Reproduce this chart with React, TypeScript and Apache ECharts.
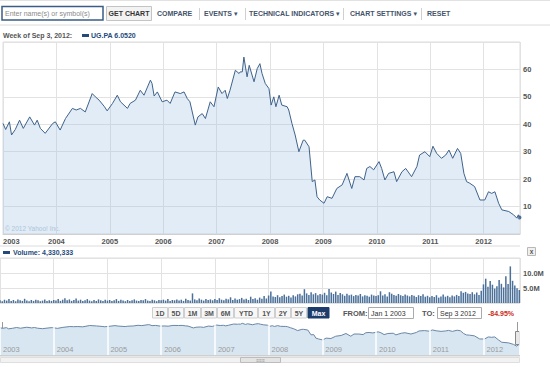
import React, { useEffect, useRef } from "react";
import * as echarts from "echarts";

// Weekly close of UG.PA (decimal year, EUR)
const priceYears = [
  2003.0, 2003.05, 2003.12, 2003.16, 2003.23, 2003.31, 2003.38, 2003.5, 2003.59, 2003.64,
  2003.7, 2003.79, 2003.93, 2003.98, 2004.07, 2004.17, 2004.3, 2004.37, 2004.45, 2004.54,
  2004.67, 2004.73, 2004.8, 2004.9, 2004.95, 2005.05, 2005.14, 2005.2, 2005.33, 2005.38,
  2005.48, 2005.57, 2005.64, 2005.76, 2005.79, 2005.83, 2005.89, 2005.98, 2006.07, 2006.13,
  2006.22, 2006.32, 2006.39, 2006.45, 2006.5, 2006.6, 2006.65, 2006.73, 2006.79, 2006.88,
  2006.95, 2007.03, 2007.1, 2007.16, 2007.2, 2007.25, 2007.35, 2007.42, 2007.44, 2007.48,
  2007.51, 2007.57, 2007.61, 2007.7, 2007.76, 2007.81, 2007.85, 2007.91, 2007.98, 2008.02,
  2008.07, 2008.11, 2008.17, 2008.22, 2008.32, 2008.35, 2008.41, 2008.47, 2008.54, 2008.62,
  2008.65, 2008.73, 2008.79, 2008.84, 2008.88, 2008.93, 2009.01, 2009.07, 2009.16, 2009.25,
  2009.35, 2009.44, 2009.53, 2009.59, 2009.68, 2009.76, 2009.81, 2009.87, 2009.94, 2010.04,
  2010.09, 2010.15, 2010.22, 2010.32, 2010.37, 2010.47, 2010.54, 2010.65, 2010.75, 2010.8,
  2010.9, 2010.99, 2011.05, 2011.12, 2011.21, 2011.29, 2011.35, 2011.42, 2011.51, 2011.57,
  2011.63, 2011.68, 2011.74, 2011.83, 2011.93, 2012.02, 2012.09, 2012.15, 2012.21, 2012.28,
  2012.34, 2012.47, 2012.56, 2012.62, 2012.65, 2012.67,
];
const priceValues = [
  40.3, 38.1, 40.9, 36.1, 38.1, 41.5, 38.5, 42.7, 39.7, 41.5,
  38.5, 36.7, 40.3, 40.9, 37.9, 42.1, 45.8, 45.2, 45.8, 44.5,
  51.2, 50.0, 48.8, 46.4, 44.9, 47.6, 50.6, 48.2, 45.8, 47.6,
  48.8, 52.4, 50.6, 56.1, 54.9, 50.3, 51.8, 48.2, 48.8, 47.6,
  51.8, 51.2, 51.8, 49.4, 48.2, 39.7, 42.7, 43.9, 42.1, 48.2,
  46.4, 53.6, 51.2, 52.4, 49.4, 52.4, 59.7, 58.5, 59.1, 59.1,
  64.5, 57.3, 61.5, 55.5, 60.3, 62.1, 58.5, 54.9, 53.0, 47.0,
  50.0, 46.4, 50.6, 47.0, 46.4, 45.2, 40.3, 36.1, 30.0, 34.2,
  34.2, 31.8, 19.1, 19.7, 13.6, 12.4, 11.2, 13.6, 13.0, 16.6,
  17.9, 22.1, 16.6, 20.9, 20.9, 19.7, 23.9, 24.6, 23.4, 26.4,
  23.9, 19.7, 22.1, 22.7, 19.1, 22.7, 23.9, 20.9, 24.6, 28.8,
  30.0, 28.2, 32.0, 29.4, 27.6, 28.8, 30.6, 27.6, 31.2, 29.4,
  22.1, 19.1, 18.5, 17.3, 12.4, 12.4, 15.4, 14.8, 15.4, 11.2,
  8.8, 8.2, 7.0, 5.8, 7.0, 6.052,
];

// Volume (millions of shares), two readings per month, from Jan 2003
const volumeStartYear = 2003;
const volumesPerYear = 24;
const vol2003 = [0.9, 0.6, 1.1, 0.8, 1.3, 0.7, 1.0, 0.6, 1.2, 0.9, 0.7, 1.4, 0.8, 0.6, 1.0, 0.7, 1.1, 0.9, 0.6, 0.8, 1.2, 0.7, 0.9, 0.7];
const vol2004 = [1.0, 0.8, 1.3, 0.7, 1.1, 1.6, 0.9, 1.2, 0.7, 1.0, 1.5, 0.8, 1.1, 0.7, 0.9, 1.3, 0.8, 0.6, 1.0, 0.7, 1.2, 0.9, 0.7, 1.1];
const vol2005 = [0.8, 1.0, 0.7, 0.9, 1.3, 0.7, 1.1, 0.8, 0.6, 1.0, 0.7, 0.9, 1.2, 0.8, 0.7, 1.0, 0.9, 1.3, 0.8, 0.7, 1.1, 0.9, 0.6, 1.0];
const vol2006 = [0.9, 1.1, 0.8, 1.3, 0.7, 1.0, 0.9, 1.2, 0.8, 1.1, 0.7, 1.4, 1.0, 0.8, 3.2, 1.2, 0.9, 1.5, 1.1, 0.8, 1.3, 1.0, 1.2, 0.9];
const vol2007 = [1.3, 1.0, 1.6, 1.1, 0.9, 1.4, 1.2, 1.9, 1.0, 1.5, 1.1, 1.3, 1.7, 1.2, 1.4, 1.0, 2.1, 1.3, 1.6, 1.1, 1.8, 1.4, 2.3, 1.5];
const vol2008 = [2.5, 3.8, 2.2, 2.0, 2.6, 1.9, 2.3, 2.8, 2.1, 2.4, 1.8, 2.6, 2.2, 2.9, 3.1, 2.5, 4.6, 3.2, 2.7, 3.6, 2.9, 3.3, 2.6, 3.0];
const vol2009 = [2.8, 3.4, 2.6, 4.7, 3.5, 3.0, 3.8, 2.7, 3.3, 2.9, 2.4, 3.1, 2.6, 2.8, 2.3, 2.7, 2.5, 3.0, 2.2, 2.6, 2.4, 2.1, 2.8, 2.5];
const vol2010 = [2.3, 2.6, 3.9, 2.5, 2.9, 2.2, 3.6, 3.1, 2.7, 2.4, 3.0, 2.6, 2.3, 2.8, 2.5, 2.2, 2.7, 2.4, 2.0, 2.6, 2.3, 2.9, 2.1, 2.4];
const vol2011 = [1.9, 2.3, 2.0, 2.6, 1.8, 2.2, 2.8, 2.1, 2.4, 1.9, 2.5, 2.2, 2.7, 2.3, 3.9, 3.4, 3.7, 3.2, 3.0, 3.6, 2.9, 3.5, 2.7, 4.1];
const vol2012 = [6.2, 8.1, 5.4, 7.3, 6.1, 4.8, 5.6, 7.7, 6.4, 5.2, 8.9, 6.3, 12.2, 7.4, 5.8, 4.9, 4.33];

const yearLabels = ["2003", "2004", "2005", "2006", "2007", "2008", "2009", "2010", "2011", "2012"];
const toolbarItems = ["COMPARE", "EVENTS \u25BE", "TECHNICAL INDICATORS \u25BE", "CHART SETTINGS \u25BE", "RESET"];
const rangeButtons = ["1D", "5D", "1M", "3M", "6M", "YTD", "1Y", "2Y", "5Y", "Max"];
const selectedRange = "Max";
const symbolName = "UG.PA";
const lastClose = "6.0520";
const lastVolume = "4,330,333";
const weekLabel = "Week of Sep 3, 2012:";
const fromDate = "Jan 1 2003";
const toDate = "Sep 3 2012";
const changeText = "-84.95%";

const X_MIN = 2003;
const X_MAX = 2012.68;

const FONT = "'Liberation Sans', Arial, 'DejaVu Sans', sans-serif";

export default function App() {
  const ref = useRef<HTMLDivElement>(null);

  useEffect(() => {
    if (!ref.current) return;
    const chart = echarts.init(ref.current, undefined, { renderer: "svg" });

    const priceData = priceYears.map((t, i) => [t, priceValues[i]]);
    const allVols = [vol2003, vol2004, vol2005, vol2006, vol2007, vol2008, vol2009, vol2010, vol2011, vol2012].flat();
    const volData = allVols.map((v, i) => [volumeStartYear + i / volumesPerYear, v * 1e6]);
    const yearFmt = (v: number) => {
      const idx = yearLabels.indexOf(String(v));
      return Number.isInteger(v) && idx >= 0 ? yearLabels[idx] : "";
    };

    const textStyle = (extra: any) => ({ fontFamily: FONT, fontSize: 7, fill: "#4a5a70", ...extra });

    const graphics: any[] = [];
    // Top toolbar
    graphics.push({ type: "line", shape: { x1: 0, y1: 0.5, x2: 550, y2: 0.5 }, style: { stroke: "#e2e2e2" } });
    graphics.push({ type: "rect", shape: { x: 2, y: 6.5, width: 101, height: 13.5 }, style: { fill: "#fff", stroke: "#3a5c87", lineWidth: 1.5 } });
    graphics.push({ type: "text", x: 5, y: 13.5, style: textStyle({ text: "Enter name(s) or symbol(s)", fill: "#8a8a8a", verticalAlign: "middle" }) });
    graphics.push({ type: "rect", shape: { x: 106.5, y: 6.5, width: 45, height: 14 }, style: { fill: "#f3f3f3", stroke: "#c4c4c4" } });
    graphics.push({ type: "text", x: 129, y: 13.8, style: textStyle({ text: "GET CHART", fill: "#333", fontWeight: "bold", align: "center", verticalAlign: "middle" }) });
    const tbX = [157, 204, 249, 350, 427];
    const sepX = [199.5, 245.5, 343.5, 421.5];
    toolbarItems.forEach((t, i) => {
      graphics.push({ type: "text", x: tbX[i], y: 13.8, style: textStyle({ text: t, fill: "#44546b", fontWeight: "bold", verticalAlign: "middle" }) });
    });
    sepX.forEach((x) => graphics.push({ type: "line", shape: { x1: x, y1: 8, x2: x, y2: 20 }, style: { stroke: "#d0d0d0" } }));
    graphics.push({ type: "line", shape: { x1: 0, y1: 25, x2: 550, y2: 25 }, style: { stroke: "#dcdcdc" } });

    // Legend line
    graphics.push({ type: "text", x: 3, y: 35.5, style: textStyle({ text: weekLabel, fill: "#555", fontWeight: "bold", verticalAlign: "middle" }) });
    graphics.push({ type: "rect", shape: { x: 82, y: 34, width: 7, height: 3 }, style: { fill: "#244a7c" } });
    graphics.push({ type: "text", x: 91, y: 35.5, style: textStyle({ text: symbolName + " " + lastClose, fill: "#244a7c", fontWeight: "bold", verticalAlign: "middle" }) });

    // copyright
    graphics.push({ type: "text", x: 5, y: 228, style: textStyle({ text: "\u00A9 2012 Yahoo! Inc.", fill: "#b3c6d8", fontWeight: "normal", verticalAlign: "middle", fontSize: 6.5 }) });

    // separator under x labels
    graphics.push({ type: "line", shape: { x1: 0, y1: 246, x2: 520, y2: 246 }, style: { stroke: "#dcdcdc" } });

    // Volume legend
    graphics.push({ type: "rect", shape: { x: 3, y: 251, width: 7, height: 3 }, style: { fill: "#244a7c" } });
    graphics.push({ type: "text", x: 13, y: 252.5, style: textStyle({ text: "Volume: " + lastVolume, fill: "#244a7c", fontWeight: "bold", verticalAlign: "middle" }) });
    // close box
    graphics.push({ type: "rect", shape: { x: 527.5, y: 247.5, width: 8, height: 8 }, style: { fill: "#f0f0f0", stroke: "#b8b8b8" } });
    graphics.push({ type: "text", x: 531.5, y: 251.5, style: textStyle({ text: "x", fill: "#555", fontWeight: "bold", align: "center", verticalAlign: "middle", fontSize: 6.5 }) });

    // Range buttons
    const btnX = [152, 168, 184, 201, 217, 234, 258, 275, 291, 307.5];
    const btnW = [15, 15, 16, 15, 16, 23, 16, 15, 15, 21];
    rangeButtons.forEach((b, i) => {
      const sel = b === selectedRange;
      graphics.push({ type: "rect", shape: { x: btnX[i] + 0.5, y: 307.5, width: btnW[i], height: 10.5 }, style: { fill: sel ? "#1d3c6c" : "#f7f7f7", stroke: sel ? "#1d3c6c" : "#cfcfcf" } });
      graphics.push({ type: "text", x: btnX[i] + 0.5 + btnW[i] / 2, y: 313, style: textStyle({ text: b, fill: sel ? "#fff" : "#555", fontWeight: "bold", align: "center", verticalAlign: "middle" }) });
    });
    graphics.push({ type: "text", x: 343, y: 313, style: textStyle({ text: "FROM:", fill: "#555", fontWeight: "bold", verticalAlign: "middle", fontSize: 7.5 }) });
    graphics.push({ type: "rect", shape: { x: 368.5, y: 307.5, width: 45, height: 11 }, style: { fill: "#fff", stroke: "#aaa" } });
    graphics.push({ type: "text", x: 371, y: 313, style: textStyle({ text: fromDate, fill: "#333", fontWeight: "normal", verticalAlign: "middle" }) });
    graphics.push({ type: "text", x: 422, y: 313, style: textStyle({ text: "TO:", fill: "#555", fontWeight: "bold", verticalAlign: "middle", fontSize: 7.5 }) });
    graphics.push({ type: "rect", shape: { x: 437.5, y: 307.5, width: 44, height: 11 }, style: { fill: "#fff", stroke: "#aaa" } });
    graphics.push({ type: "text", x: 440, y: 313, style: textStyle({ text: toDate, fill: "#333", fontWeight: "normal", verticalAlign: "middle" }) });
    graphics.push({ type: "text", x: 488, y: 313, style: textStyle({ text: changeText, fill: "#cc2a1a", fontWeight: "bold", verticalAlign: "middle" }) });

    // Navigator decorations
    graphics.push({ type: "line", shape: { x1: 0, y1: 355.5, x2: 520, y2: 355.5 }, style: { stroke: "#cfcfcf", lineWidth: 2 } });
    graphics.push({ type: "rect", shape: { x: 0.5, y: 357.5, width: 519, height: 5 }, style: { fill: "#f2f2f2", stroke: "#dedede" } });
    graphics.push({ type: "rect", shape: { x: 240.5, y: 357.5, width: 40, height: 5 }, style: { fill: "#e4e4e4", stroke: "#bcbcbc" } });
    graphics.push({ type: "text", x: 260.5, y: 360, style: textStyle({ text: "\u2261\u2261\u2261", fill: "#999", align: "center", verticalAlign: "middle", fontSize: 5 }) });
    graphics.push({ type: "line", shape: { x1: 2.5, y1: 322, x2: 2.5, y2: 354 }, style: { stroke: "#9a9a9a" } });
    graphics.push({ type: "rect", shape: { x: 0.5, y: 332.5, width: 4, height: 12 }, style: { fill: "#e8e8e8", stroke: "#888" } });
    graphics.push({ type: "line", shape: { x1: 517.5, y1: 322, x2: 517.5, y2: 354 }, style: { stroke: "#9a9a9a" } });
    graphics.push({ type: "rect", shape: { x: 515.5, y: 331.5, width: 4, height: 13 }, style: { fill: "#e8e8e8", stroke: "#888" } });

    const axisLabelStyle = { color: "#555", fontSize: 7.5, fontWeight: "bold" as const, fontFamily: FONT };
    const gridLine = { show: true, lineStyle: { color: "#e2e2e2", width: 1 } };

    chart.setOption({
      animation: false,
      backgroundColor: "#fff",
      grid: [
        { left: 0, right: 30, top: 42, height: 192, show: true, borderColor: "#dcdcdc", borderWidth: 1 },
        { left: 0, right: 30, top: 258, height: 45, show: true, borderColor: "#dcdcdc", borderWidth: 1 },
        { left: 0, right: 30, top: 322, height: 33, show: false },
      ],
      xAxis: [
        {
          gridIndex: 0, type: "value", min: X_MIN, max: X_MAX, interval: 1,
          axisLine: { show: true, lineStyle: { color: "#d0d0d0" } }, axisTick: { show: false },
          splitLine: gridLine,
          axisLabel: { ...axisLabelStyle, formatter: yearFmt, margin: 3, alignMinLabel: "left", showMaxLabel: false },
        },
        {
          gridIndex: 1, type: "value", min: X_MIN, max: X_MAX, interval: 1,
          axisLine: { show: false }, axisTick: { show: false }, axisLabel: { show: false },
          splitLine: gridLine,
        },
        {
          gridIndex: 2, type: "value", min: X_MIN, max: X_MAX, interval: 1, z: 5,
          axisLine: { show: false }, axisTick: { show: false },
          splitLine: { show: true, lineStyle: { color: "#ffffff", width: 1.5 } },
          axisLabel: {
            inside: true, align: "left", margin: 2, formatter: yearFmt, showMaxLabel: false,
            color: "#9a9a9a", fontSize: 7.5, fontFamily: FONT, padding: [0, 0, 0, 3],
          },
        },
      ],
      yAxis: [
        {
          gridIndex: 0, type: "value", position: "right", min: 0, max: 70, interval: 10,
          axisLine: { show: false }, axisTick: { show: false }, splitLine: gridLine,
          axisLabel: { ...axisLabelStyle, margin: 3, showMinLabel: false, showMaxLabel: false },
        },
        {
          gridIndex: 1, type: "value", position: "right", min: 0, max: 15e6, interval: 5e6,
          axisLine: { show: false }, axisTick: { show: false }, splitLine: gridLine,
          axisLabel: { ...axisLabelStyle, margin: 3, showMinLabel: false, showMaxLabel: false, formatter: (v: number) => (v / 1e6).toFixed(1) + "M" },
        },
        { gridIndex: 2, type: "log", min: 2.3, max: 74, show: false },
      ],
      series: [
        {
          type: "line", xAxisIndex: 0, yAxisIndex: 0, data: priceData, showSymbol: false,
          lineStyle: { color: "#3f628a", width: 1 }, areaStyle: { color: "rgba(160,196,226,0.45)", origin: "start" },
        },
        {
          type: "scatter", xAxisIndex: 0, yAxisIndex: 0, data: [priceData[priceData.length - 1]],
          symbolSize: 4, itemStyle: { color: "#2b4c7e" },
        },
        {
          type: "bar", xAxisIndex: 1, yAxisIndex: 1, data: volData, barWidth: 1.5,
          itemStyle: { color: "#4b7099" },
        },
        {
          type: "line", xAxisIndex: 2, yAxisIndex: 2, data: priceData, showSymbol: false,
          lineStyle: { color: "#6a86a5", width: 1 }, areaStyle: { color: "#d8e6f1", opacity: 1, origin: "start" },
        },
      ],
      graphic: graphics,
    });

    return () => chart.dispose();
  }, []);

  return (
    <div
      ref={ref}
      style={{ position: "absolute", left: 0, top: 0, width: 550, height: 367, background: "#fff" }}
    />
  );
}
